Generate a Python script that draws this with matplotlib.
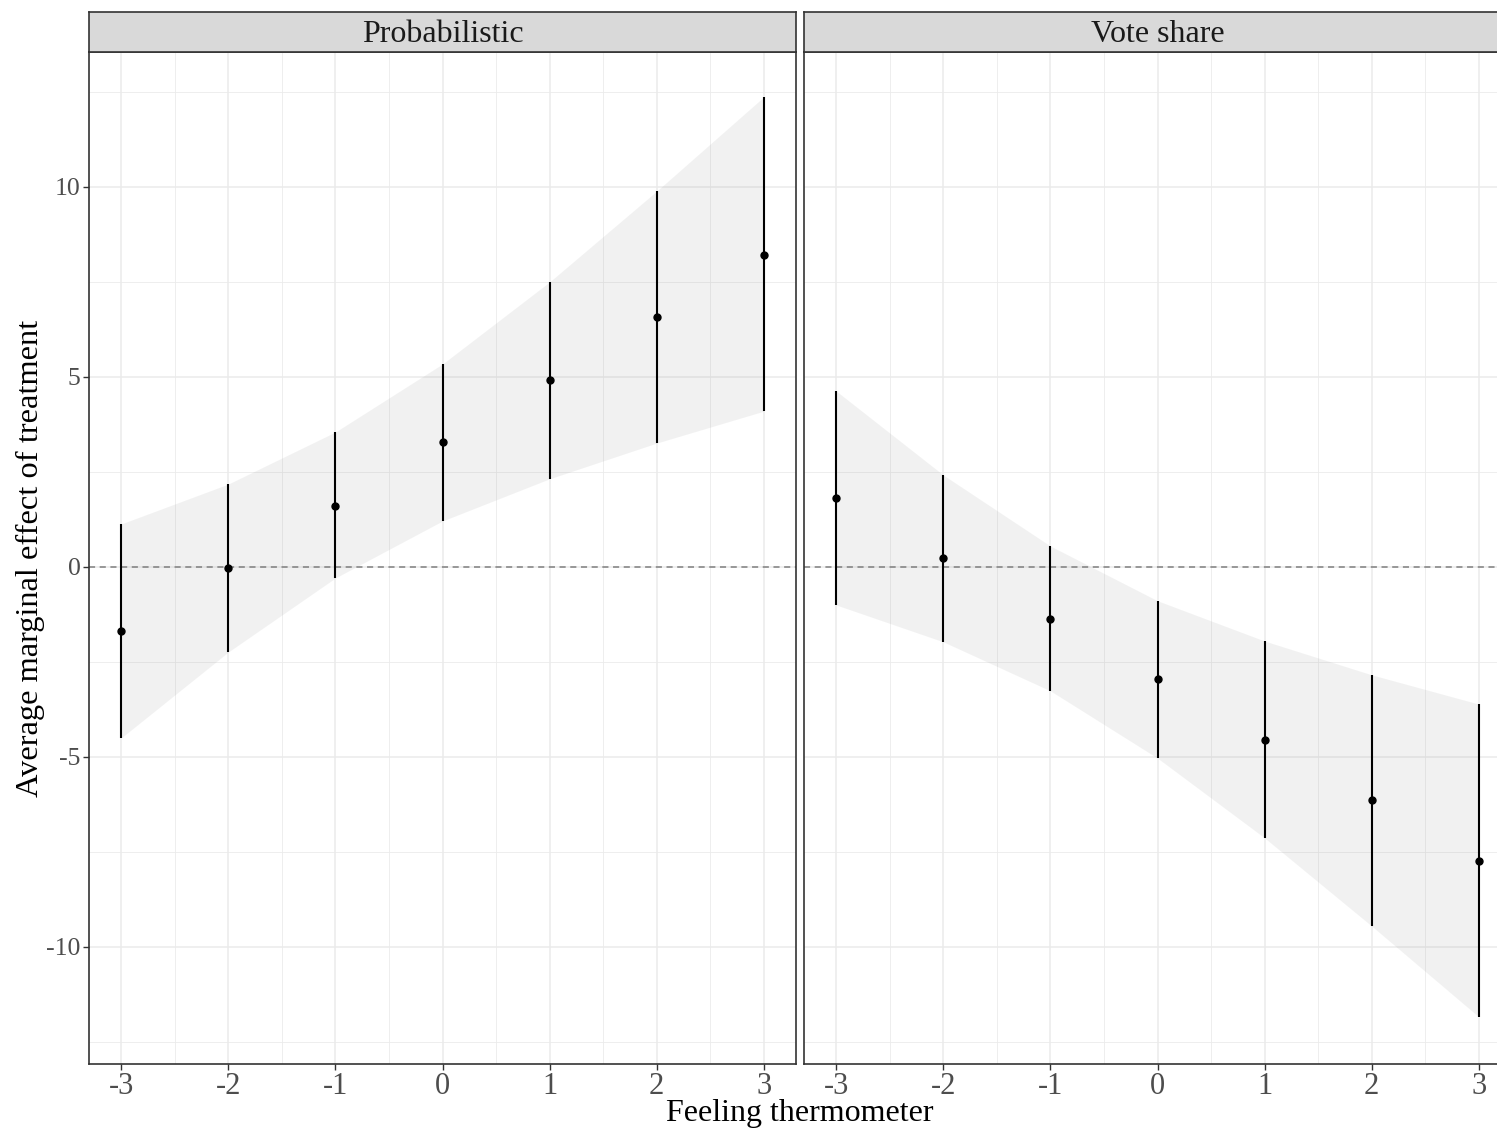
import matplotlib
matplotlib.use("Agg")
import matplotlib.pyplot as plt
import numpy as np
from matplotlib.ticker import MultipleLocator

plt.rcParams['font.family'] = ['Liberation Serif', 'DejaVu Serif']

x_vals = [-3, -2, -1, 0, 1, 2, 3]

panels = ["Probabilistic", "Vote share"]

prob_est = [-1.68, -0.03, 1.60, 3.29, 4.92, 6.58, 8.21]
prob_lo = [-4.50, -2.24, -0.29, 1.21, 2.32, 3.26, 4.10]
prob_hi = [1.13, 2.18, 3.55, 5.34, 7.50, 9.89, 12.37]

vote_est = [1.82, 0.24, -1.37, -2.95, -4.55, -6.13, -7.74]
vote_lo = [-1.00, -1.97, -3.26, -5.03, -7.13, -9.45, -11.84]
vote_hi = [4.63, 2.42, 0.55, -0.89, -1.95, -2.84, -3.61]

data = {
    "Probabilistic": (prob_est, prob_lo, prob_hi),
    "Vote share": (vote_est, vote_lo, vote_hi),
}

W, H = 1497, 1132
fig = plt.figure(figsize=(W / 100, H / 100), dpi=100)

panel_top, panel_bot = 52, 1064
strip_top = 12
lefts = [89, 804]
pw = 707

for name, lx in zip(panels, lefts):
    ax = fig.add_axes([lx / W, 1 - panel_bot / H, pw / W, (panel_bot - panel_top) / H])
    est, lo, hi = data[name]
    ax.set_axisbelow(True)
    ax.fill_between(x_vals, lo, hi, color='#7f7f7f', alpha=0.10, linewidth=0, zorder=1)
    ax.axhline(0, color='#7f7f7f', linestyle=(0, (4, 3)), linewidth=1.1, zorder=2)
    ax.vlines(x_vals, lo, hi, color='black', linewidth=1.5, zorder=3)
    ax.plot(x_vals, est, 'o', color='black', markersize=5, zorder=4)
    ax.set_xlim(-3.30, 3.30)
    ax.set_ylim(-13.08, 13.55)
    ax.xaxis.set_major_locator(MultipleLocator(1))
    ax.xaxis.set_minor_locator(MultipleLocator(0.5))
    ax.yaxis.set_major_locator(MultipleLocator(5))
    ax.yaxis.set_minor_locator(MultipleLocator(2.5))
    ax.grid(which='major', color='#ebebeb', linewidth=1.1)
    ax.grid(which='minor', color='#ebebeb', linewidth=0.6)
    ax.tick_params(which='minor', length=0)
    ax.tick_params(which='major', length=4, width=1, color='#333333', labelcolor='#4d4d4d')
    ax.tick_params(axis='x', labelsize=22, pad=2)
    ax.tick_params(axis='y', labelsize=18.5, pad=2)
    ax.set_xticks(x_vals)
    ax.set_xticklabels([str(v) for v in x_vals])
    if lx != lefts[0]:
        ax.tick_params(axis='y', labelleft=False, length=0)
    else:
        ax.set_yticks([-10, -5, 0, 5, 10])
        ax.set_yticklabels(['-10', '-5', '0', '5', '10'])
    for s in ax.spines.values():
        s.set_color('#333333')
        s.set_linewidth(1.2)

    sax = fig.add_axes([lx / W, 1 - panel_top / H, pw / W, (panel_top - strip_top) / H])
    sax.set_facecolor('#d9d9d9')
    sax.set_xticks([])
    sax.set_yticks([])
    for s in sax.spines.values():
        s.set_color('#333333')
        s.set_linewidth(1.2)
    sax.text(0.5, 0.44, name, transform=sax.transAxes, ha='center', va='center',
             fontsize=23, color='#1a1a1a')

fig.text(800 / W, 1 - 1113 / H, "Feeling thermometer", ha='center', va='center',
         fontsize=23, color='black')
fig.text(30 / W, 1 - 558 / H, "Average marginal effect of treatment", ha='center', va='center',
         rotation=90, fontsize=23.3, color='black')

fig.savefig("out.png", dpi=100)
